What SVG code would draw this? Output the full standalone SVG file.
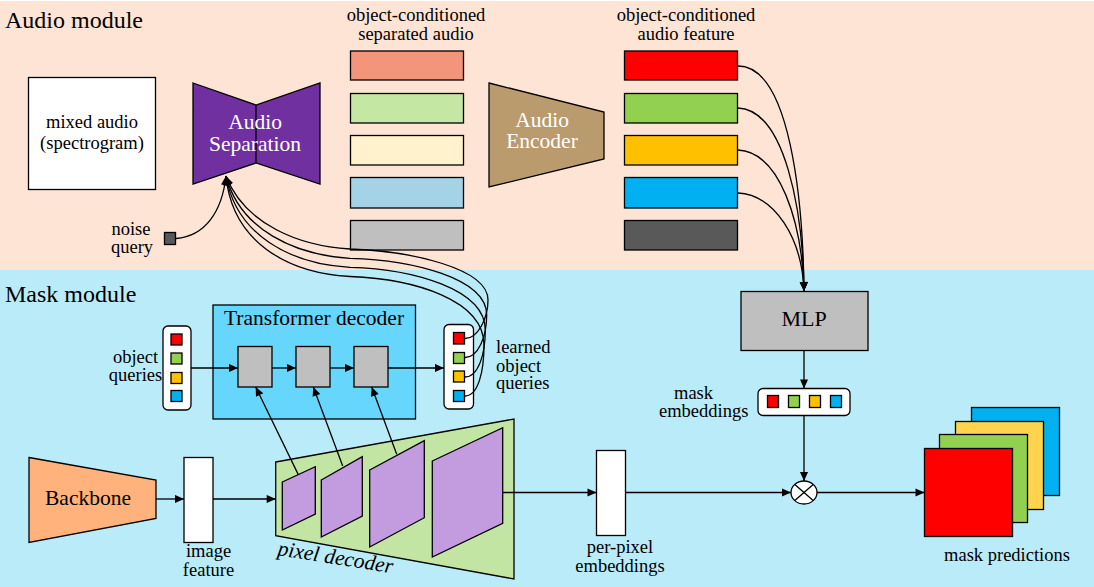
<svg xmlns="http://www.w3.org/2000/svg" width="1094" height="587" viewBox="0 0 1094 587">
<defs>
<marker id="arr" viewBox="0 0 10 10" refX="10" refY="5" markerWidth="10" markerHeight="9" markerUnits="userSpaceOnUse" orient="auto"><path d="M0,0.5 L10,5 L0,9.5 z" fill="#000"/></marker>
<style>
.s{stroke:#000;stroke-width:1.3}
text{font-family:'Liberation Serif','Tinos','DejaVu Serif','Noto Serif',serif}
.t{fill:#000}
.c{stroke:#000;stroke-width:1.3;fill:none}
.a{stroke:#000;stroke-width:1.3;fill:none;marker-end:url(#arr)}
</style>
</defs>
<rect x="0" y="0" width="1094" height="587" fill="#fff"/>
<rect x="0" y="1" width="1094" height="269" fill="#FDE4D5"/>
<rect x="0" y="270" width="1094" height="317" fill="#B9ECF8"/>
<g font-family="'Liberation Serif','Tinos','DejaVu Serif','Noto Serif',serif">
<text class="t" x="5" y="28" font-size="24">Audio module</text>
<text class="t" x="5" y="302" font-size="24">Mask module</text>

<g id="mixed-audio">
<rect class="s" x="28.5" y="77.5" width="127" height="112" fill="#fff"/>
<text class="t" x="92" y="128" font-size="18.5" text-anchor="middle">mixed audio</text>
<text class="t" x="92" y="149" font-size="18.5" text-anchor="middle">(spectrogram)</text>
</g>

<g id="audio-separation">
<polygon class="s" points="193,83 256,105 320,83 320,184 256,163 193,184" fill="#7030A0"/>
<line class="s" x1="256" y1="105" x2="256" y2="163"/>
<text x="255" y="129" font-size="21.5" text-anchor="middle" fill="#fff">Audio</text>
<text x="255" y="151" font-size="21.5" text-anchor="middle" fill="#fff">Separation</text>
</g>

<g id="noise-query">
<rect class="s" x="164.5" y="232.5" width="11" height="12" fill="#595959"/>
<text class="t" x="131" y="235" font-size="18.5" text-anchor="middle">noise</text>
<text class="t" x="132" y="253" font-size="18.5" text-anchor="middle">query</text>
</g>

<g id="separated-audio">
<text class="t" x="416" y="21" font-size="18.5" text-anchor="middle">object-conditioned</text>
<text class="t" x="416" y="40" font-size="18.5" text-anchor="middle">separated audio</text>
<rect class="s" x="350.5" y="51" width="113" height="29" fill="#F3957A"/>
<rect class="s" x="350.5" y="93.5" width="113" height="29.5" fill="#C5E7A4"/>
<rect class="s" x="350.5" y="135.5" width="113" height="29.5" fill="#FFF2CC"/>
<rect class="s" x="350.5" y="177.5" width="113" height="30.5" fill="#A4D3E8"/>
<rect class="s" x="350.5" y="220.5" width="113" height="29.5" fill="#BFBFBF"/>
</g>

<g id="audio-encoder">
<polygon class="s" points="489,83 604,112 604,159 489,187" fill="#B99B6D"/>
<text x="542" y="127" font-size="21.5" text-anchor="middle" fill="#fff">Audio</text>
<text x="542" y="148" font-size="21.5" text-anchor="middle" fill="#fff">Encoder</text>
</g>

<g id="audio-feature">
<text class="t" x="686" y="21" font-size="18.5" text-anchor="middle">object-conditioned</text>
<text class="t" x="686" y="40" font-size="18.5" text-anchor="middle">audio feature</text>
<rect class="s" x="624.5" y="51" width="113" height="29" fill="#FF0000"/>
<rect class="s" x="624.5" y="93.5" width="113" height="29.5" fill="#92D050"/>
<rect class="s" x="624.5" y="135.5" width="113" height="29.5" fill="#FFC000"/>
<rect class="s" x="624.5" y="177.5" width="113" height="30.5" fill="#00B0F0"/>
<rect class="s" x="624.5" y="220.5" width="113" height="29.5" fill="#595959"/>
</g>

<g id="mlp">
<rect class="s" x="741" y="291.5" width="127" height="59" fill="#BFBFBF"/>
<text class="t" x="804" y="326" font-size="22" text-anchor="middle">MLP</text>
</g>

<g id="transformer-decoder">
<rect class="s" x="213" y="305" width="202.5" height="114" fill="#66D6FD"/>
<text class="t" x="314" y="325" font-size="21.5" text-anchor="middle">Transformer decoder</text>
<rect class="s" x="238" y="346.5" width="34" height="40.5" fill="#BFBFBF"/>
<rect class="s" x="296" y="346.5" width="34" height="40.5" fill="#BFBFBF"/>
<rect class="s" x="354" y="346.5" width="34" height="40.5" fill="#BFBFBF"/>
</g>

<g id="object-queries">
<rect class="s" x="163" y="326" width="28" height="84" rx="5" fill="#fff"/>
<rect class="s" x="171" y="334" width="11" height="11" fill="#FF0000"/>
<rect class="s" x="171" y="353" width="11" height="11" fill="#92D050"/>
<rect class="s" x="171" y="372.5" width="11" height="11" fill="#FFC000"/>
<rect class="s" x="171" y="390.5" width="11" height="11" fill="#00B0F0"/>
<text class="t" x="135.5" y="363" font-size="18.5" text-anchor="middle">object</text>
<text class="t" x="135.5" y="381" font-size="18.5" text-anchor="middle">queries</text>
</g>

<g id="learned-object-queries">
<rect class="s" x="444" y="324.5" width="29.5" height="84.5" rx="5" fill="#fff"/>
<rect class="s" x="453.5" y="332.5" width="11" height="11.5" fill="#FF0000"/>
<rect class="s" x="453.5" y="352.5" width="11" height="11" fill="#92D050"/>
<rect class="s" x="453.5" y="371" width="11" height="11" fill="#FFC000"/>
<rect class="s" x="453.5" y="390.5" width="11" height="11" fill="#00B0F0"/>
<text class="t" x="496" y="353" font-size="18.5">learned</text>
<text class="t" x="496" y="372" font-size="18.5">object</text>
<text class="t" x="496" y="389" font-size="18.5">queries</text>
</g>

<g id="backbone">
<polygon class="s" points="29,457.5 156,480 156,518.5 29,542.5" fill="#FFB27B"/>
<text class="t" x="88" y="505" font-size="21.5" text-anchor="middle">Backbone</text>
</g>

<g id="image-feature">
<rect class="s" x="184" y="457.5" width="29" height="85" fill="#fff"/>
<text class="t" x="208.5" y="557" font-size="18.5" text-anchor="middle">image</text>
<text class="t" x="208.5" y="576" font-size="18.5" text-anchor="middle">feature</text>
</g>

<g id="pixel-decoder">
<polygon class="s" points="275.7,462 514,419 514,579 275.7,535.7" fill="#C3E5A3"/>
<polygon class="s" points="282.3,482 315.3,466.7 315.3,514 282.3,530" fill="#C39BDF"/>
<polygon class="s" points="321.3,480 362.3,456.7 362.3,516 321.3,537" fill="#C39BDF"/>
<polygon class="s" points="369.7,470 424.3,440.7 424.3,517.7 369.7,547" fill="#C39BDF"/>
<polygon class="s" points="432.3,461 502.7,427.7 502.7,523.3 432.3,557" fill="#C39BDF"/>
<text class="t" x="277" y="555" font-size="21.5" font-style="italic" transform="rotate(9 277 555)">pixel decoder</text>
</g>

<g id="per-pixel-embeddings">
<rect class="s" x="596.5" y="450.5" width="29" height="85" fill="#fff"/>
<text class="t" x="620" y="553" font-size="18.5" text-anchor="middle">per-pixel</text>
<text class="t" x="620" y="572" font-size="18.5" text-anchor="middle">embeddings</text>
</g>

<g id="mask-embeddings">
<rect class="s" x="758" y="388.5" width="92" height="27" rx="5" fill="#fff"/>
<rect class="s" x="767.5" y="395.5" width="11" height="12" fill="#FF0000"/>
<rect class="s" x="788.5" y="395.5" width="11" height="12" fill="#92D050"/>
<rect class="s" x="809.5" y="395.5" width="11" height="12" fill="#FFC000"/>
<rect class="s" x="830.5" y="395.5" width="11" height="12" fill="#00B0F0"/>
<text class="t" x="674" y="399" font-size="18.5">mask</text>
<text class="t" x="659" y="416.5" font-size="18.5">embeddings</text>
</g>

<g id="multiply">
<ellipse class="s" cx="804" cy="492.5" rx="13" ry="11.5" fill="#fff"/>
<line class="s" x1="794.8" y1="484.4" x2="813.2" y2="500.6"/>
<line class="s" x1="794.8" y1="500.6" x2="813.2" y2="484.4"/>
</g>

<g id="mask-predictions">
<rect class="s" x="971.5" y="407.5" width="88" height="88" fill="#00B0F0"/>
<rect class="s" x="955.5" y="421.5" width="88" height="88" fill="#FFD34D"/>
<rect class="s" x="939.5" y="434.5" width="88" height="88" fill="#92D050"/>
<rect class="s" x="924.5" y="448.5" width="88" height="88" fill="#FF0000"/>
<text class="t" x="1007" y="561" font-size="18.5" text-anchor="middle">mask predictions</text>
</g>
</g>

<g id="connectors">
<path class="a" d="M176,238.5 C205,236 222,212 226,176"/>
<path class="a" d="M465,338.5 C478,338.5 488,318 488,300 C488,268 410,251 350,249 C300,246 245,225 226,176"/>
<path class="a" d="M465,357.5 C478,357.5 486.7,337 486.7,315 C486.7,278 412,260 350,258.3 C295,255 240,230 226,176"/>
<path class="a" d="M465,377 C478,377 485.3,355 485.3,330 C485.3,289 413,269 350,267.3 C290,264 236,235 226,176"/>
<path class="a" d="M465,396 C478,396 484,372 484,345 C484,300 415,279 350,276.5 C285,273 232,240 226,176"/>
<path class="a" d="M738,66 C790,66 803,200 804,291"/>
<path class="a" d="M738,108 C785,110 803,210 804,291"/>
<path class="a" d="M738,150 C780,152 802,222 804,291"/>
<path class="a" d="M738,193 C775,195 802,238 804,291"/>
<path class="a" d="M804,350.5 L804,388.5"/>
<path class="a" d="M804,415.5 L804,481"/>
<path class="a" d="M626,492.5 L791,492.5"/>
<path class="a" d="M817,492.5 L924.5,492.5"/>
<path class="a" d="M503,492.5 L596.5,492.5"/>
<path class="a" d="M156,499 L184,499"/>
<path class="a" d="M213,499 L275.7,499"/>
<path class="a" d="M191,368 L238,368"/>
<path class="a" d="M272,368 L296,368"/>
<path class="a" d="M330,368 L354,368"/>
<path class="a" d="M388,368 L444,368"/>
<path class="a" d="M298.3,474.6 L255.7,387"/>
<path class="a" d="M342.7,466 L313.3,387"/>
<path class="a" d="M396.7,454.3 L371.7,387"/>
</g>
</svg>
